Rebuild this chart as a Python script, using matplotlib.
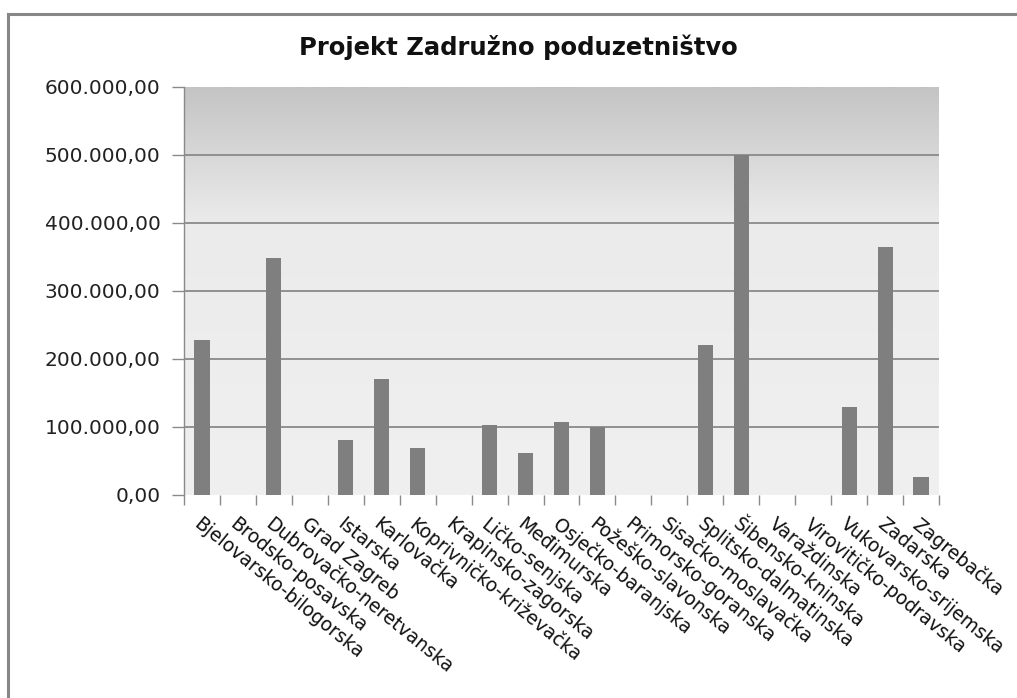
import numpy as np
import matplotlib
matplotlib.use("Agg")
import matplotlib.pyplot as plt
from matplotlib.colors import LinearSegmentedColormap
from matplotlib.lines import Line2D
from matplotlib.ticker import FuncFormatter, MultipleLocator

categories = [
    "Bjelovarsko-bilogorska", "Brodsko-posavska", "Dubrovačko-neretvanska",
    "Grad Zagreb", "Istarska", "Karlovačka", "Koprivničko-križevačka",
    "Krapinsko-zagorska", "Ličko-senjska", "Međimurska", "Osječko-baranjska",
    "Požeško-slavonska", "Primorsko-goranska", "Sisačko-moslavačka",
    "Splitsko-dalmatinska", "Šibensko-kninska", "Varaždinska",
    "Virovitičko-podravska", "Vukovarsko-srijemska", "Zadarska", "Zagrebačka",
]
values = [
    228000, 0, 348500, 0, 81000, 170500, 69000, 0, 103000, 62000, 107000,
    100500, 0, 0, 220500, 500000, 0, 0, 129500, 365000, 26500,
]
title = "Projekt Zadružno poduzetništvo"

W, H = 1017, 698
fig = plt.figure(figsize=(W / 100, H / 100), dpi=100)
fig.patch.set_facecolor("white")

# outer chart border (left and top visible)
fig.add_artist(Line2D([8 / W, 8 / W], [0, 1 - 14 / H], transform=fig.transFigure,
                      color="#878787", lw=2.2))
fig.add_artist(Line2D([8 / W, 1], [1 - 14 / H, 1 - 14 / H], transform=fig.transFigure,
                      color="#878787", lw=2.2))

left, right, top, bottom = 184, 939, 87, 495
ax = fig.add_axes([left / W, 1 - bottom / H, (right - left) / W, (bottom - top) / H])

# gradient background
cmap = LinearSegmentedColormap.from_list(
    "bg", [(0.0, "#f0f0f0"), (0.67, "#ebebeb"), (0.83, "#d8d8d8"), (1.0, "#c4c4c4")])
grad = np.linspace(0, 1, 256).reshape(-1, 1)
ax.imshow(grad, cmap=cmap, aspect="auto", origin="lower",
          extent=[0, 1, 0, 1], transform=ax.transAxes, zorder=0)

x = np.arange(len(categories))
ax.bar(x, values, width=0.42, color="#7f7f7f", zorder=3)

ax.set_xlim(-0.5, len(categories) - 0.5)
ax.set_ylim(0, 600000)
ax.yaxis.set_major_locator(MultipleLocator(100000))


def fmt(v, pos):
    s = f"{v:,.2f}"
    return s.replace(",", "X").replace(".", ",").replace("X", ".")


ax.yaxis.set_major_formatter(FuncFormatter(fmt))
for yv in range(100000, 600000, 100000):
    ax.axhline(yv, color="#8a8a8a", lw=1.3, zorder=2)

for s in ["top", "right", "bottom"]:
    ax.spines[s].set_visible(False)
ax.spines["left"].set_color("#8a8a8a")
ax.spines["left"].set_linewidth(1.0)

ax.set_xticks(np.arange(len(categories) + 1) - 0.5, minor=True)
ax.set_xticks(x)
ax.tick_params(axis="x", which="major", length=0, pad=14)
ax.tick_params(axis="x", which="minor", length=7, color="#8a8a8a", width=1)
ax.tick_params(axis="y", length=9, color="#8a8a8a", width=1, pad=8,
               labelsize=14.5, labelcolor="#222222")
ax.set_xticklabels(categories, rotation=-39, ha="left", va="top",
                   rotation_mode="anchor", fontsize=13.5, color="#111111")

fig.text(518 / W, 1 - 47 / H, title, ha="center", va="center",
         fontsize=17.5, fontweight="bold", color="#111111")

fig.savefig("out.png", dpi=100)
